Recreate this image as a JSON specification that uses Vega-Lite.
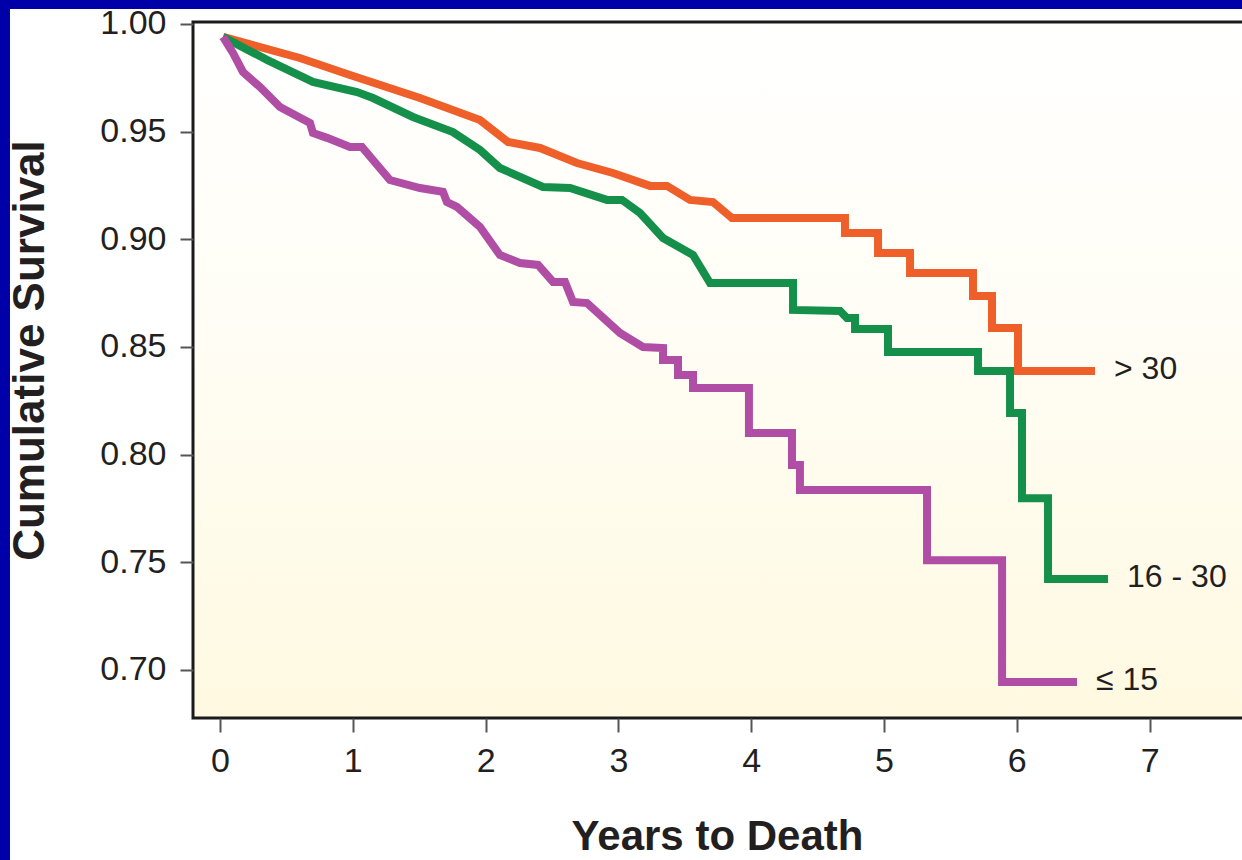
{
  "$schema": "https://vega.github.io/schema/vega-lite/v6.json",
  "width": 1048,
  "height": 696,
  "autosize": "none",
  "padding": {"left": 193, "top": 22, "right": 1, "bottom": 142},
  "background": "#0000A8",
  "config": {"view": {"stroke": null}, "font": "Liberation Sans"},
  "datasets": {
    "km": [
      {"group": "> 30", "t": 0.023, "s": 0.994},
      {"group": "> 30", "t": 0.602, "s": 0.9842},
      {"group": "> 30", "t": 0.979, "s": 0.9763},
      {"group": "> 30", "t": 1.506, "s": 0.9656},
      {"group": "> 30", "t": 1.958, "s": 0.9554},
      {"group": "> 30", "t": 2.169, "s": 0.9452},
      {"group": "> 30", "t": 2.41, "s": 0.9424},
      {"group": "> 30", "t": 2.688, "s": 0.9354},
      {"group": "> 30", "t": 2.959, "s": 0.9308},
      {"group": "> 30", "t": 3.238, "s": 0.9248},
      {"group": "> 30", "t": 3.366, "s": 0.9248},
      {"group": "> 30", "t": 3.539, "s": 0.9183},
      {"group": "> 30", "t": 3.712, "s": 0.9173},
      {"group": "> 30", "t": 3.855, "s": 0.9099},
      {"group": "> 30", "t": 4.706, "s": 0.9099},
      {"group": "> 30", "t": 4.706, "s": 0.9029},
      {"group": "> 30", "t": 4.955, "s": 0.9029},
      {"group": "> 30", "t": 4.955, "s": 0.8936},
      {"group": "> 30", "t": 5.196, "s": 0.8936},
      {"group": "> 30", "t": 5.196, "s": 0.8843},
      {"group": "> 30", "t": 5.67, "s": 0.8843},
      {"group": "> 30", "t": 5.67, "s": 0.8737},
      {"group": "> 30", "t": 5.813, "s": 0.8737},
      {"group": "> 30", "t": 5.813, "s": 0.8588},
      {"group": "> 30", "t": 6.009, "s": 0.8588},
      {"group": "> 30", "t": 6.009, "s": 0.8388},
      {"group": "> 30", "t": 6.589, "s": 0.8388},
      {"group": "16 - 30", "t": 0.023, "s": 0.994},
      {"group": "16 - 30", "t": 0.354, "s": 0.9833},
      {"group": "16 - 30", "t": 0.7, "s": 0.9731},
      {"group": "16 - 30", "t": 1.032, "s": 0.9684},
      {"group": "16 - 30", "t": 1.152, "s": 0.9656},
      {"group": "16 - 30", "t": 1.453, "s": 0.9568},
      {"group": "16 - 30", "t": 1.754, "s": 0.9498},
      {"group": "16 - 30", "t": 1.958, "s": 0.9415},
      {"group": "16 - 30", "t": 2.108, "s": 0.9331},
      {"group": "16 - 30", "t": 2.432, "s": 0.9243},
      {"group": "16 - 30", "t": 2.636, "s": 0.9238},
      {"group": "16 - 30", "t": 2.914, "s": 0.9183},
      {"group": "16 - 30", "t": 3.027, "s": 0.9183},
      {"group": "16 - 30", "t": 3.163, "s": 0.9122},
      {"group": "16 - 30", "t": 3.336, "s": 0.9006},
      {"group": "16 - 30", "t": 3.562, "s": 0.8927},
      {"group": "16 - 30", "t": 3.69, "s": 0.8797},
      {"group": "16 - 30", "t": 4.315, "s": 0.8797},
      {"group": "16 - 30", "t": 4.315, "s": 0.8672},
      {"group": "16 - 30", "t": 4.669, "s": 0.8667},
      {"group": "16 - 30", "t": 4.721, "s": 0.8634},
      {"group": "16 - 30", "t": 4.782, "s": 0.8634},
      {"group": "16 - 30", "t": 4.782, "s": 0.8583},
      {"group": "16 - 30", "t": 5.03, "s": 0.8583},
      {"group": "16 - 30", "t": 5.03, "s": 0.8477},
      {"group": "16 - 30", "t": 5.708, "s": 0.8477},
      {"group": "16 - 30", "t": 5.708, "s": 0.8388},
      {"group": "16 - 30", "t": 5.949, "s": 0.8388},
      {"group": "16 - 30", "t": 5.949, "s": 0.8193},
      {"group": "16 - 30", "t": 6.039, "s": 0.8193},
      {"group": "16 - 30", "t": 6.039, "s": 0.7798},
      {"group": "16 - 30", "t": 6.235, "s": 0.7798},
      {"group": "16 - 30", "t": 6.235, "s": 0.7422},
      {"group": "16 - 30", "t": 6.687, "s": 0.7422},
      {"group": "≤ 15", "t": 0.023, "s": 0.994},
      {"group": "≤ 15", "t": 0.098, "s": 0.9865},
      {"group": "≤ 15", "t": 0.173, "s": 0.9777},
      {"group": "≤ 15", "t": 0.301, "s": 0.9707},
      {"group": "≤ 15", "t": 0.452, "s": 0.9614},
      {"group": "≤ 15", "t": 0.678, "s": 0.954},
      {"group": "≤ 15", "t": 0.7, "s": 0.9494},
      {"group": "≤ 15", "t": 0.806, "s": 0.9471},
      {"group": "≤ 15", "t": 0.979, "s": 0.9429},
      {"group": "≤ 15", "t": 1.069, "s": 0.9429},
      {"group": "≤ 15", "t": 1.28, "s": 0.9275},
      {"group": "≤ 15", "t": 1.506, "s": 0.9238},
      {"group": "≤ 15", "t": 1.679, "s": 0.922},
      {"group": "≤ 15", "t": 1.709, "s": 0.9173},
      {"group": "≤ 15", "t": 1.785, "s": 0.915},
      {"group": "≤ 15", "t": 1.958, "s": 0.9057},
      {"group": "≤ 15", "t": 2.108, "s": 0.8927},
      {"group": "≤ 15", "t": 2.259, "s": 0.889},
      {"group": "≤ 15", "t": 2.395, "s": 0.8881},
      {"group": "≤ 15", "t": 2.508, "s": 0.8802},
      {"group": "≤ 15", "t": 2.598, "s": 0.8802},
      {"group": "≤ 15", "t": 2.658, "s": 0.8709},
      {"group": "≤ 15", "t": 2.764, "s": 0.8704},
      {"group": "≤ 15", "t": 3.012, "s": 0.8565},
      {"group": "≤ 15", "t": 3.185, "s": 0.85},
      {"group": "≤ 15", "t": 3.336, "s": 0.8495},
      {"group": "≤ 15", "t": 3.336, "s": 0.8439},
      {"group": "≤ 15", "t": 3.449, "s": 0.8439},
      {"group": "≤ 15", "t": 3.449, "s": 0.837},
      {"group": "≤ 15", "t": 3.562, "s": 0.837},
      {"group": "≤ 15", "t": 3.562, "s": 0.8309},
      {"group": "≤ 15", "t": 3.983, "s": 0.8309},
      {"group": "≤ 15", "t": 3.983, "s": 0.81},
      {"group": "≤ 15", "t": 4.307, "s": 0.81},
      {"group": "≤ 15", "t": 4.307, "s": 0.7952},
      {"group": "≤ 15", "t": 4.367, "s": 0.7952},
      {"group": "≤ 15", "t": 4.367, "s": 0.7836},
      {"group": "≤ 15", "t": 5.324, "s": 0.7836},
      {"group": "≤ 15", "t": 5.324, "s": 0.751},
      {"group": "≤ 15", "t": 5.889, "s": 0.751},
      {"group": "≤ 15", "t": 5.889, "s": 0.6944},
      {"group": "≤ 15", "t": 6.453, "s": 0.6944}
    ]
  },
  "layer": [
    {
      "data": {"values": [{}]},
      "mark": {"type": "rect", "fill": "#FFFFFF", "clip": false},
      "encoding": {
        "x": {"datum": -1.581, "type": "quantitative", "title": "Years to Death"},
        "x2": {"datum": 8.5},
        "y": {"datum": 0.6, "type": "quantitative", "title": "Cumulative Survival"},
        "y2": {"datum": 1.0069}
      }
    },
    {
      "data": {"values": [{}]},
      "mark": {
        "type": "rect",
        "clip": false,
        "stroke": "#1A1A1A",
        "strokeWidth": 3,
        "fill": {
          "gradient": "linear",
          "x1": 0, "y1": 0, "x2": 0, "y2": 1,
          "stops": [
            {"offset": 0, "color": "#FFFFFF"},
            {"offset": 0.5, "color": "#FFFDF3"},
            {"offset": 1, "color": "#FFF9E1"}
          ]
        }
      },
      "encoding": {
        "x": {"datum": -0.203, "type": "quantitative", "title": "Years to Death"},
        "x2": {"datum": 8.5},
        "y": {"datum": 0.6777, "type": "quantitative", "title": "Cumulative Survival"},
        "y2": {"datum": 1.0009}
      }
    },
    {
      "data": {"name": "km"},
      "mark": {"type": "line", "strokeWidth": 8, "strokeCap": "butt", "strokeJoin": "miter", "clip": false},
      "encoding": {
        "x": {
          "field": "t",
          "type": "quantitative",
          "title": "Years to Death",
          "scale": {"domain": [-0.203, 7.688], "nice": false, "zero": false},
          "axis": {
            "values": [0, 1, 2, 3, 4, 5, 6, 7],
            "format": "d",
            "titleFontSize": 42,
            "titleFontWeight": "bold",
            "titleColor": "#231F20",
            "titleBaseline": "alphabetic",
            "titleY": 131,
            "labelFontSize": 34,
            "labelColor": "#231F20",
            "labelPadding": 12,
            "labelFlush": false,
            "tickSize": 14,
            "tickWidth": 2,
            "tickColor": "#555555",
            "domain": false,
            "grid": false,
            "zindex": 1
          }
        },
        "y": {
          "field": "s",
          "type": "quantitative",
          "title": "Cumulative Survival",
          "scale": {"domain": [0.6777, 1.0009], "nice": false, "zero": false},
          "axis": {
            "values": [0.7, 0.75, 0.8, 0.85, 0.9, 0.95, 1.0],
            "format": ".2f",
            "titleFontSize": 44,
            "titleFontWeight": "bold",
            "titleColor": "#231F20",
            "titleBaseline": "alphabetic",
            "titleAlign": "center",
            "titleAngle": -90,
            "titleX": -150,
            "titleY": 328,
            "labelFontSize": 34,
            "labelColor": "#231F20",
            "labelPadding": 14,
            "labelFlush": false,
            "tickSize": 13,
            "tickWidth": 2,
            "tickColor": "#555555",
            "domain": false,
            "grid": false,
            "zindex": 1
          }
        },
        "color": {
          "field": "group",
          "type": "nominal",
          "scale": {"domain": ["> 30", "16 - 30", "≤ 15"], "range": ["#EE5F2A", "#14904A", "#B04EA5"]},
          "legend": null
        },
        "order": [
          {"field": "t", "type": "quantitative", "sort": "ascending"},
          {"field": "s", "type": "quantitative", "sort": "descending"}
        ]
      }
    },
    {
      "data": {"name": "km"},
      "transform": [
        {"joinaggregate": [{"op": "max", "field": "t", "as": "tmax"}], "groupby": ["group"]},
        {"filter": "datum.t === datum.tmax"}
      ],
      "mark": {"type": "text", "align": "left", "baseline": "middle", "dx": 19, "dy": -2, "fontSize": 32, "color": "#231F20", "clip": false},
      "encoding": {
        "x": {"field": "t", "type": "quantitative", "title": "Years to Death"},
        "y": {"field": "s", "type": "quantitative", "title": "Cumulative Survival"},
        "text": {"field": "group"}
      }
    }
  ]
}
